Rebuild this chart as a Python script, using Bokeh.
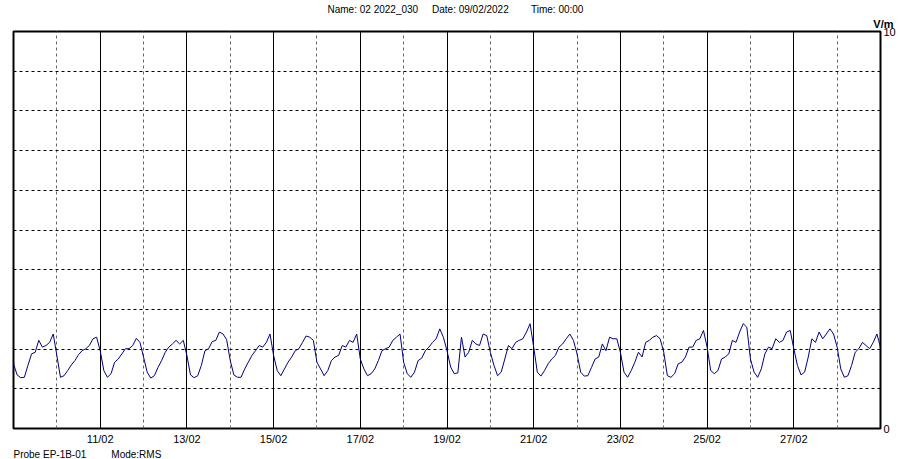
import pandas as pd
from bokeh.plotting import figure
from bokeh.models import Range1d, FixedTicker, DatetimeTickFormatter, Title
from bokeh.embed import file_html
from bokeh.resources import INLINE

# ---- data (2-hourly readings, V/m) ----
start = "2022-02-09 00:00"
field_vm = [
    1.63, 1.35, 1.28, 1.29, 1.59, 1.88, 1.92, 2.22, 2.05, 2.09, 2.17, 2.38,  # 09/02
    1.84, 1.29, 1.33, 1.46, 1.60, 1.71, 1.86, 1.96, 2.01, 2.09, 2.26, 2.30,  # 10/02
    1.96, 1.46, 1.29, 1.38, 1.67, 1.75, 1.88, 2.01, 2.01, 2.09, 2.27, 2.17,  # 11/02
    1.80, 1.42, 1.27, 1.33, 1.54, 1.71, 1.92, 2.05, 2.13, 2.22, 2.13, 2.22,  # 12/02
    1.84, 1.35, 1.28, 1.33, 1.59, 1.96, 2.01, 2.19, 2.22, 2.43, 2.38, 2.24,  # 13/02
    1.71, 1.35, 1.29, 1.29, 1.50, 1.67, 1.84, 1.96, 2.09, 2.05, 2.17, 2.38,  # 14/02
    1.84, 1.46, 1.33, 1.50, 1.67, 1.80, 1.96, 2.01, 2.17, 2.33, 2.30, 2.22,  # 15/02
    1.67, 1.50, 1.33, 1.46, 1.71, 1.80, 1.84, 2.09, 2.05, 2.22, 2.17, 2.38,  # 16/02
    1.75, 1.50, 1.33, 1.38, 1.50, 1.71, 1.96, 2.01, 2.05, 2.22, 2.30, 2.38,  # 17/02
    1.67, 1.38, 1.29, 1.42, 1.71, 1.77, 1.96, 2.05, 2.17, 2.26, 2.51, 2.30,  # 18/02
    1.96, 1.55, 1.38, 1.40, 2.30, 1.80, 1.92, 2.22, 2.13, 2.09, 2.38, 2.34,  # 19/02
    1.92, 1.59, 1.33, 1.42, 1.75, 2.09, 2.01, 2.17, 2.22, 2.26, 2.43, 2.64,  # 20/02
    2.05, 1.42, 1.32, 1.46, 1.63, 1.75, 1.84, 2.05, 2.13, 2.26, 2.38, 2.22,  # 21/02
    1.88, 1.42, 1.32, 1.33, 1.54, 1.75, 1.80, 2.13, 1.96, 2.30, 2.26, 2.26,  # 22/02
    1.92, 1.42, 1.29, 1.46, 1.67, 1.92, 1.80, 2.17, 2.22, 2.30, 2.34, 2.26,  # 23/02
    1.92, 1.33, 1.29, 1.38, 1.63, 1.67, 1.80, 2.05, 2.05, 2.22, 2.26, 2.47,  # 24/02
    2.05, 1.46, 1.38, 1.46, 1.75, 1.80, 1.88, 2.22, 2.17, 2.43, 2.64, 2.55,  # 25/02
    1.75, 1.42, 1.29, 1.50, 1.88, 2.05, 2.01, 2.26, 2.17, 2.22, 2.43, 2.47,  # 26/02
    2.01, 1.59, 1.35, 1.42, 1.80, 2.26, 2.17, 2.43, 2.26, 2.38, 2.51, 2.38,  # 27/02
    2.05, 1.50, 1.29, 1.33, 1.59, 1.92, 2.01, 2.17, 2.09, 2.01, 2.17, 2.38,  # 28/02
    2.05,                                                                    # 01/03
]

x_tick_dates = ["2022-02-11", "2022-02-13", "2022-02-15", "2022-02-17", "2022-02-19",
                "2022-02-21", "2022-02-23", "2022-02-25", "2022-02-27"]
x_tick_labels = ["11/02", "13/02", "15/02", "17/02", "19/02",
                 "21/02", "23/02", "25/02", "27/02"]
x_minor_dates = ["2022-02-10", "2022-02-12", "2022-02-14", "2022-02-16", "2022-02-18",
                 "2022-02-20", "2022-02-22", "2022-02-24", "2022-02-26", "2022-02-28"]
y_ticks = [0, 10]
y_grid = [1, 2, 3, 4, 5, 6, 7, 8, 9]
header_texts = ["Name: 02 2022_030", "Date: 09/02/2022", "Time: 00:00"]
footer_texts = ["Probe EP-1B-01", "Mode:RMS"]
unit_text = "V/m"

FONT = "Liberation Sans"
NB = "\u00a0"


def ms(d):
    return pd.Timestamp(d).timestamp() * 1000.0


times = pd.date_range(start, periods=len(field_vm), freq="2h")
x0, x1 = ms(times[0]), ms(times[-1])

p = figure(frame_width=867, frame_height=397, x_axis_type="datetime", y_axis_location="right",
           x_range=Range1d(x0, x1), y_range=Range1d(0, 10),
           output_backend="svg", toolbar_location=None,
           min_border_left=13, min_border_right=18, min_border_top=31, min_border_bottom=31)

p.background_fill_color = "white"
p.border_fill_color = "white"
p.outline_line_color = "black"
p.outline_line_width = 2
p.outline_line_alpha = 1

major_ms = [ms(d) for d in x_tick_dates]
minor_ms = [ms(d) for d in x_minor_dates]

# x axis
xa = p.xaxis[0]
xa.ticker = FixedTicker(ticks=major_ms, minor_ticks=[])
xa.formatter = DatetimeTickFormatter(days="%d/%m", months="%d/%m", hours="%d/%m",
                                     hourmin="%d/%m", years="%d/%m")
xa.major_label_overrides = {m: lab for m, lab in zip(major_ms, x_tick_labels)}
xa.axis_line_color = None
xa.major_tick_line_color = None
xa.minor_tick_line_color = None
xa.major_tick_out = 0
xa.minor_tick_out = 0
xa.major_tick_in = 0
xa.major_label_standoff = 4
xa.major_label_text_font = FONT
xa.major_label_text_font_size = "11px"
xa.major_label_text_color = "black"

# y axis (right)
ya = p.yaxis[0]
ya.ticker = FixedTicker(ticks=y_ticks, minor_ticks=[])
ya.axis_line_color = None
ya.major_tick_line_color = None
ya.minor_tick_line_color = None
ya.major_tick_out = 0
ya.minor_tick_out = 0
ya.major_tick_in = 0
ya.major_label_standoff = 3
ya.major_label_text_font = FONT
ya.major_label_text_font_size = "11px"
ya.major_label_text_color = "black"

# grids
p.xgrid.ticker = FixedTicker(ticks=major_ms, minor_ticks=minor_ms)
p.xgrid.grid_line_color = "black"
p.xgrid.grid_line_width = 1
p.xgrid.grid_line_alpha = 1
p.xgrid.minor_grid_line_color = "#666666"
p.xgrid.minor_grid_line_dash = "3 3"
p.xgrid.minor_grid_line_width = 1

p.ygrid.ticker = FixedTicker(ticks=y_grid)
p.ygrid.grid_line_color = "black"
p.ygrid.grid_line_dash = "3 3"
p.ygrid.grid_line_width = 1
p.ygrid.grid_line_alpha = 1

# series
p.line(times, field_vm, line_color="#000080", line_width=1)

# texts: unit above right, header at very top, footer at bottom
p.add_layout(Title(text=unit_text, align="right", offset=-13, standoff=3,
                   text_font=FONT, text_font_size="11px", text_font_style="bold",
                   text_color="black"), "above")
header = (NB * 5).join(header_texts[:2]) + NB * 8 + header_texts[2]
p.add_layout(Title(text=header, align="left", offset=314, standoff=0,
                   text_font=FONT, text_font_size="10px", text_font_style="normal",
                   text_color="black"), "above")
footer = (NB * 9).join(footer_texts)
p.add_layout(Title(text=footer, align="left", offset=0, standoff=-1,
                   text_font=FONT, text_font_size="10px", text_font_style="normal",
                   text_color="black"), "below")

open("out.html", "w").write(file_html(p, INLINE))
